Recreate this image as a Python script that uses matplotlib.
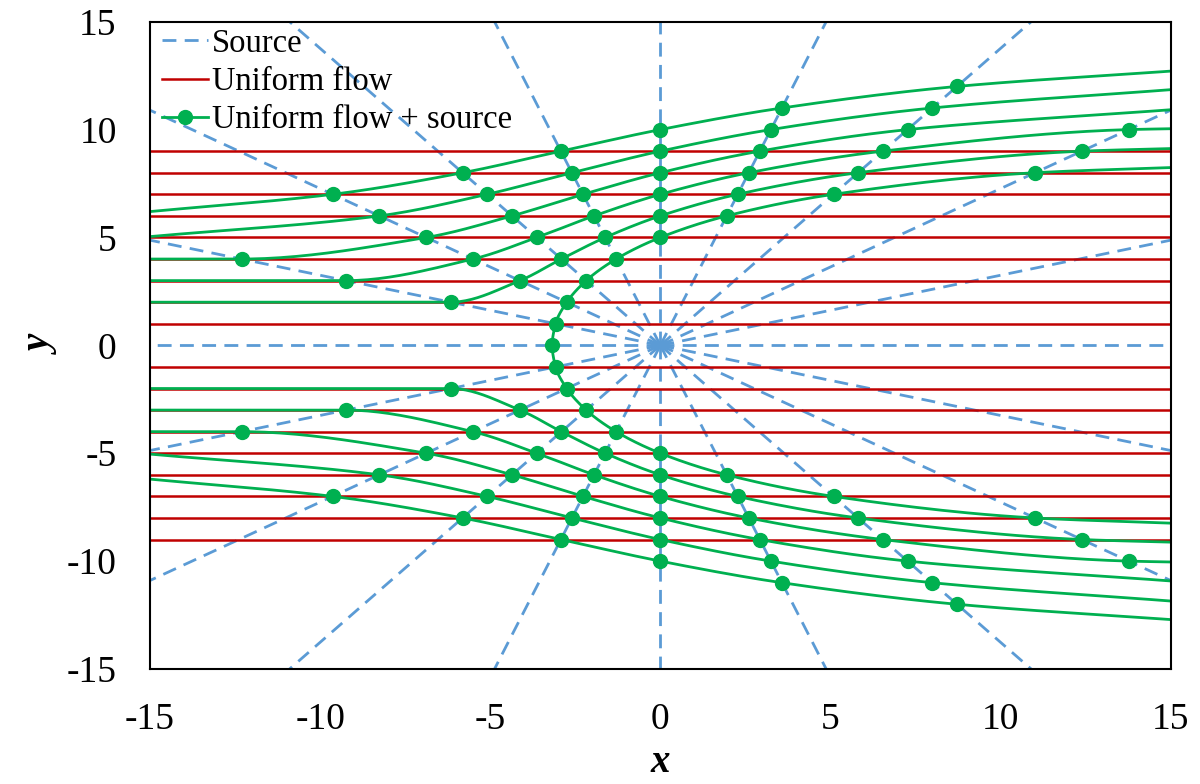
import numpy as np
import matplotlib
matplotlib.use('Agg')
import matplotlib.pyplot as plt
from matplotlib.lines import Line2D

plt.rcParams['font.family'] = ['Liberation Serif', 'DejaVu Serif']
plt.rcParams['axes.unicode_minus'] = False

# source rays (deg) and uniform-flow levels
ray_angles = [0, 18, 36, 54, 72, 90, 108, 126, 144, 162,
              180, 198, 216, 234, 252, 270, 288, 306, 324, 342]
uniform_y = [-9, -8, -7, -6, -5, -4, -3, -2, -1, 1, 2, 3, 4, 5, 6, 7, 8, 9]

# streamlines of uniform flow + source (upper half, first/last = plot edge)
sl15_x = [-15, -9.63, -5.81, -2.92, 0, 3.57, 8.72, 15]
sl15_y = [6.2, 7, 8, 9, 10, 11, 12, 12.71]
sl14_x = [-15, -8.26, -5.09, -2.60, 0, 3.25, 7.99, 15]
sl14_y = [5.04, 6, 7, 8, 9, 10, 11, 11.85]
sl13_x = [-15, -12.31, -6.88, -4.36, -2.27, 0, 2.92, 7.27, 15]
sl13_y = [4.0, 4, 5, 6, 7, 8, 9, 10, 10.92]
sl12_x = [-15, -9.23, -5.51, -3.63, -1.95, 0, 2.60, 6.54, 13.76, 15]
sl12_y = [3.0, 3, 4, 5, 6, 7, 8, 9, 10, 10.04]
sl11_x = [-15, -6.16, -4.13, -2.91, -1.62, 0, 2.27, 5.81, 12.39, 15]
sl11_y = [2.0, 2, 3, 4, 5, 6, 7, 8, 9, 9.12]
# dividing streamline, upper branch from stagnation point
sl10_x = [-3.18, -3.08, -2.75, -2.18, -1.30, 0, 1.95, 5.09, 11.01, 15]
sl10_y = [0, 1, 2, 3, 4, 5, 6, 7, 8, 8.24]

blue = '#5B9BD5'
red = '#C00000'
green = '#00B050'


def smooth(x, y, n=24):
    # smoothed line through the points, no overshoot on flat parts
    p = np.column_stack([x, y]).astype(float)
    h = np.hypot(*np.diff(p, axis=0).T)
    s = np.diff(p, axis=0) / h[:, None]
    m = np.zeros_like(p)
    m[0] = s[0]
    m[-1] = s[-1]
    for i in range(1, len(p) - 1):
        h0, h1 = h[i - 1], h[i]
        for c in range(2):
            s0, s1 = s[i - 1, c], s[i, c]
            if s0 * s1 > 0:
                m[i, c] = 3 * (h0 + h1) / ((2 * h1 + h0) / s0 + (h1 + 2 * h0) / s1)
    t = np.linspace(0, 1, n, endpoint=False)[:, None]
    out = []
    for i in range(len(p) - 1):
        c1 = p[i] + m[i] * h[i] / 3
        c2 = p[i + 1] - m[i + 1] * h[i] / 3
        out.append((1 - t) ** 3 * p[i] + 3 * (1 - t) ** 2 * t * c1
                   + 3 * (1 - t) * t ** 2 * c2 + t ** 3 * p[i + 1])
    out.append(p[-1][None, :])
    out = np.vstack(out)
    return out[:, 0], out[:, 1]


fig = plt.figure(figsize=(12, 7.84), dpi=100)
ax = fig.add_axes([150 / 1200, 115 / 784, 1020.7 / 1200, 647.3 / 784])

# source
for a in ray_angles:
    r = np.radians(a)
    ax.plot([0, 30 * np.cos(r)], [0, 30 * np.sin(r)], color=blue, lw=2,
            dashes=(5, 3), zorder=1)

# uniform flow
for yy in uniform_y:
    ax.plot([-15, 15], [yy, yy], color=red, lw=1.8, zorder=2)

# uniform flow + source
lines = [(sl15_x, sl15_y), (sl14_x, sl14_y), (sl13_x, sl13_y),
         (sl12_x, sl12_y), (sl11_x, sl11_y)]
for xs, ys in lines:
    for sgn in (1, -1):
        ysg = [sgn * v for v in ys]
        sx, sy = smooth(xs, ysg)
        ax.plot(sx, sy, color=green, lw=2, zorder=3)
        ax.plot(xs[1:-1], ysg[1:-1], 'o', color=green, ms=10, zorder=4)

div_x = sl10_x[::-1] + sl10_x[1:]
div_y = [-v for v in sl10_y[::-1]] + sl10_y[1:]
sx, sy = smooth(div_x, div_y)
ax.plot(sx, sy, color=green, lw=2, zorder=3)
ax.plot(div_x[1:-1], div_y[1:-1], 'o', color=green, ms=10, zorder=4)

ax.set_xlim(-15, 15)
ax.set_ylim(-15, 15)
ax.set_xticks([-15, -10, -5, 0, 5, 10, 15])
ax.set_yticks([-15, -10, -5, 0, 5, 10, 15])
ax.tick_params(axis='both', length=0, labelsize=27)
ax.tick_params(axis='x', pad=24)
ax.tick_params(axis='y', pad=24)
for s in ax.spines.values():
    s.set_linewidth(1.5)
    s.set_zorder(6)

ax.set_xlabel('x', fontsize=28, fontweight='bold', style='italic', labelpad=5)
ax.set_ylabel('y', fontsize=28, fontweight='bold', style='italic', labelpad=4)

handles = [
    Line2D([], [], color=blue, lw=2, dashes=(5, 3)),
    Line2D([], [], color=red, lw=1.8),
    Line2D([], [], color=green, lw=2, marker='o', ms=10),
]
ax.legend(handles, ['Source', 'Uniform flow', 'Uniform flow + source'],
          loc='upper left', bbox_to_anchor=(0.0054, 1.0), frameon=False,
          fontsize=23.5, handlelength=1.4, handletextpad=0.12,
          labelspacing=0.24, borderpad=0.2, borderaxespad=0)

fig.savefig('out.png', dpi=100)
